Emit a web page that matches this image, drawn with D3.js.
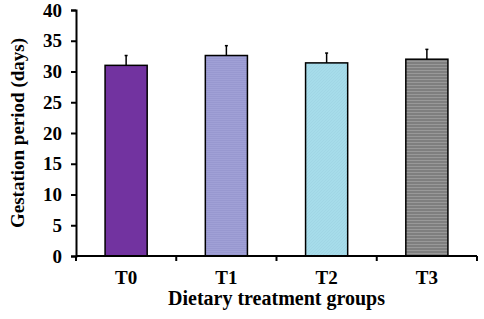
<!DOCTYPE html>
<html>
<head>
<meta charset="utf-8">
<script src="https://cdn.jsdelivr.net/npm/d3@7"></script>
<style>
  body { margin: 0; background: #fff; }
  text { font-family: "Liberation Serif", "Times New Roman", serif; font-weight: bold; fill: #000; }
</style>
</head>
<body>
<div id="chart"></div>
<script>
// chart data
const groups = ['T0', 'T1', 'T2', 'T3'];
const means = [31.0, 32.6, 31.4, 32.0];
const errors = [1.6, 1.6, 1.6, 1.6];
const yTicks = [0, 5, 10, 15, 20, 25, 30, 35, 40];
const barColors = ['#7233a0', '#a0a0d6', '#a6dcea', '#7f7f7f'];

const width = 484, height = 319;
const margin = {top: 10, right: 7, bottom: 63, left: 76};
const innerW = width - margin.left - margin.right;
const innerH = height - margin.top - margin.bottom;

const svg = d3.select('#chart').append('svg')
    .attr('width', width)
    .attr('height', height);

// fine stripe textures like the original fills
const defs = svg.append('defs');
const p1 = defs.append('pattern').attr('id', 'pat1')
    .attr('patternUnits', 'userSpaceOnUse').attr('width', 4).attr('height', 2);
p1.append('rect').attr('width', 4).attr('height', 2).attr('fill', barColors[1]);
p1.append('rect').attr('width', 4).attr('height', 1).attr('fill', '#9898d0');
const p2 = defs.append('pattern').attr('id', 'pat2')
    .attr('patternUnits', 'userSpaceOnUse').attr('width', 3).attr('height', 3);
p2.append('rect').attr('width', 3).attr('height', 3).attr('fill', barColors[2]);
p2.append('path').attr('d', 'M0,3 L3,0').attr('stroke', '#9fd4e3').attr('stroke-width', 0.7);
const p3 = defs.append('pattern').attr('id', 'pat3')
    .attr('patternUnits', 'userSpaceOnUse').attr('width', 4).attr('height', 3);
p3.append('rect').attr('width', 4).attr('height', 3).attr('fill', barColors[3]);
p3.append('rect').attr('width', 4).attr('height', 1).attr('fill', '#999999');
const fills = [barColors[0], 'url(#pat1)', 'url(#pat2)', 'url(#pat3)'];

const chart = svg.append('g')
    .attr('transform', `translate(${margin.left},${margin.top})`);

const xScale = d3.scaleBand()
    .domain(groups)
    .range([0, innerW])
    .paddingInner(0.58)
    .paddingOuter(0.29);

const xTickScale = d3.scaleLinear().domain([0, groups.length]).range([0, innerW]);

const yScale = d3.scaleLinear()
    .domain([0, 40])
    .range([innerH, 0]);

// bars
chart.selectAll('.bar')
    .data(groups)
    .join('rect')
    .attr('class', 'bar')
    .attr('x', d => xScale(d))
    .attr('y', (d, i) => yScale(means[i]))
    .attr('width', xScale.bandwidth())
    .attr('height', (d, i) => yScale(0) - yScale(means[i]))
    .attr('fill', (d, i) => fills[i])
    .attr('stroke', '#000')
    .attr('stroke-width', 1.5);

// error bars (upper only)
chart.selectAll('.err')
    .data(groups)
    .join('line')
    .attr('class', 'err')
    .attr('x1', d => xScale(d) + xScale.bandwidth() / 2)
    .attr('x2', d => xScale(d) + xScale.bandwidth() / 2)
    .attr('y1', (d, i) => yScale(means[i]))
    .attr('y2', (d, i) => yScale(means[i] + errors[i]))
    .attr('stroke', '#000')
    .attr('stroke-width', 1.5);

chart.selectAll('.cap')
    .data(groups)
    .join('line')
    .attr('class', 'cap')
    .attr('x1', d => xScale(d) + xScale.bandwidth() / 2 - 1.5)
    .attr('x2', d => xScale(d) + xScale.bandwidth() / 2 + 1.5)
    .attr('y1', (d, i) => yScale(means[i] + errors[i]))
    .attr('y2', (d, i) => yScale(means[i] + errors[i]))
    .attr('stroke', '#000')
    .attr('stroke-width', 1.5);

// y axis
const yAxisG = chart.append('g')
    .call(d3.axisLeft(yScale).tickValues(yTicks).tickSize(5).tickPadding(9));
yAxisG.select('.domain').attr('stroke-width', 2);
yAxisG.selectAll('.tick line').attr('stroke-width', 2);
yAxisG.selectAll('.tick text')
    .style('font-size', '19px')
    .style('font-family', '"Liberation Serif", serif')
    .style('font-weight', 'bold')
    .attr('fill', '#000');

// x axis: ticks sit between the groups
const xAxisG = chart.append('g')
    .attr('transform', `translate(0,${innerH})`);
xAxisG.append('line')
    .attr('x1', 0).attr('x2', innerW)
    .attr('y1', 0).attr('y2', 0)
    .attr('stroke', '#000').attr('stroke-width', 2);
xAxisG.selectAll('.xtick')
    .data(d3.range(groups.length + 1))
    .join('line')
    .attr('class', 'xtick')
    .attr('x1', d => xTickScale(d)).attr('x2', d => xTickScale(d))
    .attr('y1', 0).attr('y2', 5)
    .attr('stroke', '#000').attr('stroke-width', 2);
xAxisG.selectAll('.xlabel')
    .data(groups)
    .join('text')
    .attr('class', 'xlabel')
    .attr('x', d => xScale(d) + xScale.bandwidth() / 2)
    .attr('y', 28)
    .attr('text-anchor', 'middle')
    .style('font-size', '19px')
    .text(d => d);

// axis titles
svg.append('text')
    .attr('x', margin.left + innerW / 2)
    .attr('y', 305)
    .attr('text-anchor', 'middle')
    .style('font-size', '20px')
    .text('Dietary treatment groups');

svg.append('text')
    .attr('transform', `translate(24,${margin.top + innerH / 2}) rotate(-90)`)
    .attr('text-anchor', 'middle')
    .style('font-size', '19px')
    .text('Gestation period (days)');
</script>
</body>
</html>
